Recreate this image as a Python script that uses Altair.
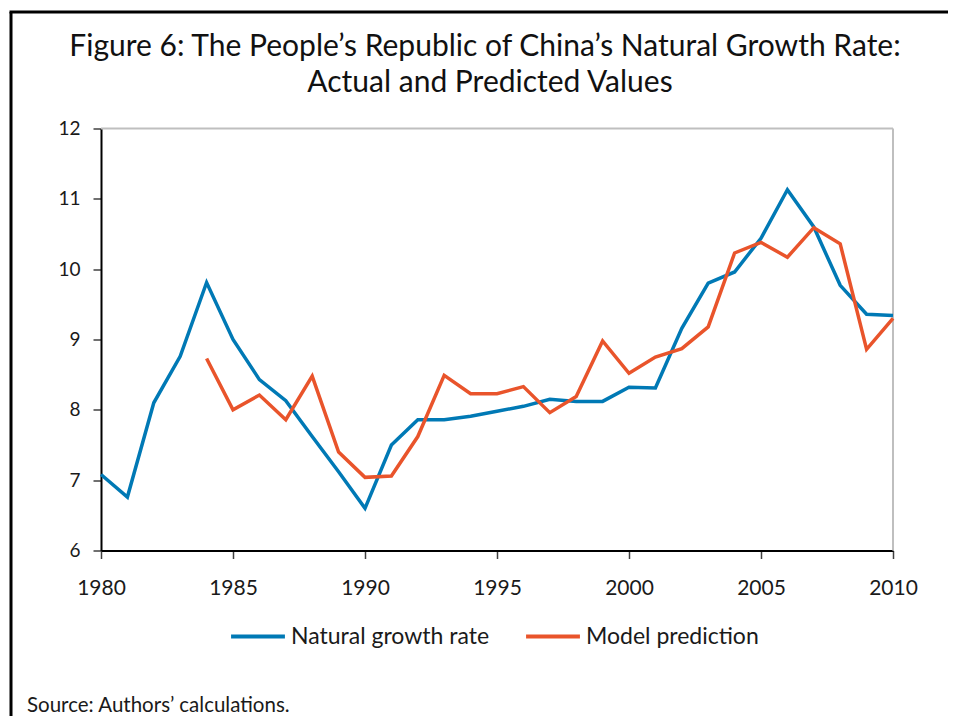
import altair as alt
import pandas as pd

# ---- data ----
years = list(range(1980, 2011))
natural_growth = [7.08, 6.76, 8.10, 8.76, 9.81, 9.00, 8.43, 8.13, 7.62, 7.12, 6.60,
                  7.50, 7.86, 7.86, 7.91, 7.98, 8.05, 8.15, 8.12, 8.12, 8.32,
                  8.31, 9.16, 9.80, 9.96, 10.44, 11.13, 10.60, 9.77, 9.36, 9.34]
model_years = list(range(1984, 2011))
model_prediction = [8.73, 8.00, 8.21, 7.86, 8.48, 7.40, 7.04,
                    7.06, 7.62, 8.49, 8.23, 8.23, 8.33, 7.96, 8.19, 8.98, 8.52,
                    8.75, 8.87, 9.18, 10.23, 10.38, 10.17, 10.59, 10.36, 8.86, 9.30]
series_names = ["Natural growth rate", "Model prediction"]
series_colors = ["#0079B5", "#E9542B"]
x_ticks = [1980, 1985, 1990, 1995, 2000, 2005, 2010]
y_ticks = [6, 7, 8, 9, 10, 11, 12]
title_lines = ["Figure 6: The People\u2019s Republic of China\u2019s Natural Growth Rate:",
               "Actual and Predicted Values"]
source_note = "Source: Authors\u2019 calculations."

df = pd.concat([
    pd.DataFrame({"year": years, "value": natural_growth, "series": series_names[0]}),
    pd.DataFrame({"year": model_years, "value": model_prediction, "series": series_names[1]}),
])

FONT = "Lato"
W, H = 792, 422
PAD_L, PAD_T, PAD_R, PAD_B = 93, 120.5, 55, 165.5

lines = alt.Chart(df).mark_line(strokeWidth=3.5).encode(
    x=alt.X("year:Q",
            scale=alt.Scale(domain=[1980, 2010], nice=False, zero=False),
            axis=alt.Axis(values=x_ticks, format="d", title=None, grid=False,
                          domainColor="#000000", domainWidth=2,
                          tickColor="#404040", tickSize=8, tickWidth=1.5,
                          labelFont=FONT, labelFontSize=21, labelColor="#1a1a1a",
                          labelPadding=19, labelFlush=False)),
    y=alt.Y("value:Q",
            scale=alt.Scale(domain=[6, 12], nice=False, zero=False),
            axis=alt.Axis(values=y_ticks, title=None, grid=False,
                          domainColor="#000000", domainWidth=2,
                          tickColor="#404040", tickSize=8, tickWidth=1.5,
                          labelFont=FONT, labelFontSize=19, labelColor="#1a1a1a",
                          labelPadding=13)),
    color=alt.Color("series:N",
                    scale=alt.Scale(domain=series_names, range=series_colors),
                    legend=alt.Legend(title=None, orient="none", direction="horizontal",
                                      legendX=128, legendY=479, columns=2,
                                      symbolType="stroke", symbolSize=2900,
                                      symbolStrokeWidth=4, labelFont=FONT,
                                      labelFontSize=23, labelColor="#1a1a1a",
                                      labelOffset=4, columnPadding=28,
                                      labelLimit=400)),
)

one = pd.DataFrame({"k": [0]})

# light grey border on top and right of the plot area
top_border = alt.Chart(one).mark_rule(color="#BFBFBF", strokeWidth=2).encode(
    x=alt.value(0), x2=alt.value(W), y=alt.value(0))
right_border = alt.Chart(one).mark_rule(color="#BFBFBF", strokeWidth=2).encode(
    x=alt.value(W), y=alt.value(0), y2=alt.value(H))

# outer frame (left and top)
frame_left = alt.Chart(one).mark_rule(color="#000000", strokeWidth=3).encode(
    x=alt.value(-90), y=alt.value(-116.5), y2=alt.value(H + PAD_B))
frame_top = alt.Chart(one).mark_rule(color="#000000", strokeWidth=3).encode(
    x=alt.value(-91.5), x2=alt.value(W + PAD_R), y=alt.value(-116.5))

title1 = alt.Chart(one).mark_text(font=FONT, fontSize=30, color="#111111",
                                  align="center", baseline="alphabetic").encode(
    x=alt.value(384), y=alt.value(-73), text=alt.value(title_lines[0]))
title2 = alt.Chart(one).mark_text(font=FONT, fontSize=30, color="#111111",
                                  align="center", baseline="alphabetic").encode(
    x=alt.value(389), y=alt.value(-37), text=alt.value(title_lines[1]))
source = alt.Chart(one).mark_text(font=FONT, fontSize=20.5, color="#1a1a1a",
                                  align="left", baseline="alphabetic").encode(
    x=alt.value(-74), y=alt.value(583.5), text=alt.value(source_note))

chart = alt.layer(
    top_border, right_border, lines, frame_left, frame_top, title1, title2, source
).properties(
    width=W, height=H,
    autosize=alt.AutoSizeParams(type="none"),
    padding={"left": PAD_L, "top": PAD_T, "right": PAD_R, "bottom": PAD_B},
    background="#ffffff",
).configure_view(stroke=None)

chart.save("out.html", embed_options={"renderer": "svg", "actions": False})
